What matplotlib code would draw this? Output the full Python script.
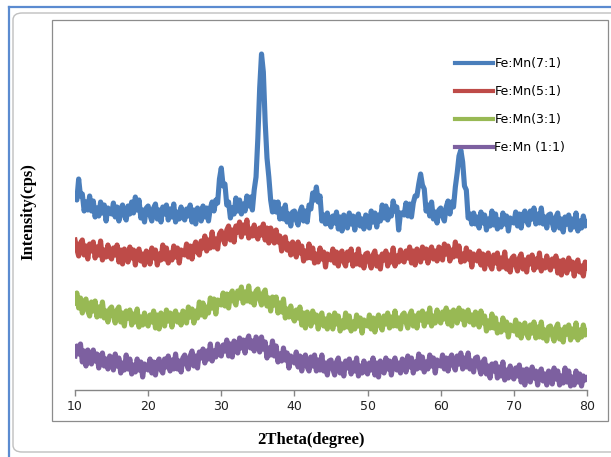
"""XRD patterns of Fe:Mn samples, offset stacked (Excel-style chart)."""
import numpy as np
import matplotlib
matplotlib.use("Agg")
import matplotlib.pyplot as plt
from matplotlib.patches import FancyBboxPatch, Rectangle
from matplotlib.lines import Line2D

# ---------------------------------------------------------------------------
# data: scan from 10 to 80 deg, 0.25 deg steps, intensities
# ---------------------------------------------------------------------------
SCAN_START, SCAN_STEP = 10.0, 0.25

labels = ["Fe:Mn(7:1)", "Fe:Mn(5:1)", "Fe:Mn(3:1)", "Fe:Mn (1:1)"]
colors = ["#4A7EBB", "#BE4B48", "#98B954", "#7D60A0"]

mn_7_1 = [
    194, 190, 211, 194, 196, 179, 188, 180, 194, 179, 189, 173, 182, 174, 188, 177, 185, 169, 182, 178,
    176, 187, 173, 183, 169, 181, 185, 174, 170, 184, 176, 188, 177, 193, 180, 190, 172, 180, 168, 182,
    184, 175, 169, 182, 186, 171, 180, 168, 183, 176, 185, 170, 181, 173, 186, 168, 178, 171, 183, 173,
    170, 181, 174, 185, 168, 180, 166, 182, 177, 169, 184, 173, 182, 169, 182, 188, 179, 190, 187, 211,
    222, 204, 206, 185, 188, 172, 182, 176, 192, 179, 190, 176, 186, 179, 194, 184, 193, 180, 200, 213,
    252, 302, 336, 318, 268, 232, 213, 190, 178, 188, 178, 188, 171, 181, 171, 185, 168, 176, 164, 178,
    179, 170, 165, 178, 183, 169, 179, 168, 185, 181, 197, 190, 203, 188, 194, 169, 175, 166, 177, 167,
    163, 174, 167, 178, 161, 173, 159, 175, 170, 162, 177, 166, 174, 160, 172, 176, 164, 171, 161, 175,
    173, 162, 179, 168, 177, 163, 175, 169, 185, 172, 184, 170, 180, 174, 189, 179, 183, 160, 177, 177,
    175, 187, 174, 186, 173, 187, 194, 194, 206, 216, 205, 201, 179, 185, 174, 188, 171, 178, 167, 180,
    182, 174, 169, 183, 189, 176, 188, 183, 203, 217, 234, 240, 228, 204, 200, 172, 176, 166, 177, 166,
    173, 162, 178, 167, 175, 160, 171, 164, 179, 165, 176, 161, 170, 163, 177, 166, 174, 159, 172, 168,
    167, 178, 164, 176, 162, 175, 179, 169, 165, 179, 171, 182, 166, 176, 167, 182, 166, 173, 162, 175,
    176, 167, 160, 173, 177, 162, 171, 158, 173, 166, 175, 160, 171, 163, 177, 159, 169, 162, 174, 164,
    168,
]

mn_5_1 = [
    150, 141, 134, 147, 150, 135, 144, 131, 146, 139, 148, 132, 143, 135, 149, 130, 140, 133, 145, 134,
    131, 142, 135, 145, 128, 140, 126, 141, 136, 128, 143, 132, 140, 125, 137, 141, 129, 136, 125, 139,
    137, 126, 142, 132, 140, 125, 136, 130, 145, 131, 142, 127, 137, 130, 144, 133, 142, 127, 140, 136,
    135, 146, 133, 144, 131, 143, 148, 138, 135, 149, 142, 154, 139, 150, 142, 158, 143, 151, 141, 156,
    159, 151, 146, 160, 164, 150, 160, 148, 164, 158, 168, 153, 165, 157, 170, 152, 161, 154, 165, 155,
    151, 162, 155, 166, 150, 162, 147, 162, 156, 147, 160, 148, 154, 139, 150, 153, 140, 146, 135, 148,
    144, 133, 148, 137, 144, 129, 139, 132, 146, 132, 142, 127, 136, 128, 142, 131, 138, 123, 136, 132,
    130, 141, 127, 138, 124, 136, 139, 128, 124, 138, 130, 141, 124, 135, 126, 141, 125, 133, 122, 136,
    137, 128, 122, 135, 139, 124, 133, 121, 136, 130, 139, 124, 135, 128, 142, 124, 134, 128, 140, 130,
    128, 139, 132, 143, 127, 139, 125, 141, 136, 128, 143, 132, 141, 127, 139, 143, 131, 139, 129, 143,
    141, 130, 146, 136, 144, 129, 140, 133, 148, 134, 144, 128, 136, 129, 142, 131, 138, 123, 136, 131,
    129, 139, 125, 136, 121, 133, 137, 125, 121, 135, 127, 137, 121, 132, 123, 138, 121, 129, 118, 132,
    134, 125, 119, 132, 136, 121, 130, 118, 133, 126, 135, 120, 131, 123, 137, 119, 129, 122, 134, 124,
    120, 131, 124, 134, 117, 129, 115, 130, 125, 117, 132, 121, 128, 114, 126, 130, 118, 124, 114, 128,
    122,
]

mn_3_1 = [
    87, 97, 82, 92, 77, 88, 91, 79, 74, 88, 79, 89, 73, 83, 74, 88, 72, 79, 68, 81,
    83, 74, 67, 80, 83, 68, 77, 64, 79, 72, 80, 65, 76, 68, 81, 63, 73, 65, 77, 67,
    64, 75, 68, 79, 62, 75, 61, 77, 72, 64, 80, 69, 77, 63, 75, 79, 68, 75, 65, 79,
    77, 67, 83, 73, 81, 67, 79, 72, 88, 75, 87, 73, 83, 77, 92, 82, 91, 76, 90, 87,
    85, 97, 84, 96, 82, 95, 99, 89, 85, 99, 92, 103, 87, 98, 89, 104, 88, 96, 85, 99,
    101, 91, 85, 97, 100, 84, 92, 79, 93, 85, 93, 77, 87, 78, 91, 72, 81, 73, 84, 73,
    69, 80, 72, 83, 65, 77, 62, 78, 73, 64, 79, 68, 75, 61, 73, 77, 64, 71, 61, 75,
    72, 61, 77, 66, 74, 59, 69, 62, 77, 63, 74, 59, 68, 61, 75, 64, 72, 57, 70, 66,
    64, 75, 61, 72, 58, 70, 75, 64, 60, 74, 66, 77, 62, 73, 64, 79, 64, 72, 61, 75,
    77, 68, 62, 75, 79, 64, 74, 62, 77, 70, 79, 64, 76, 68, 82, 64, 74, 67, 80, 70,
    67, 78, 71, 82, 66, 78, 64, 80, 75, 67, 82, 71, 79, 65, 77, 80, 68, 75, 65, 78,
    75, 63, 79, 67, 74, 59, 69, 62, 76, 62, 72, 57, 65, 58, 72, 60, 68, 53, 65, 61,
    59, 70, 55, 66, 52, 63, 67, 56, 52, 65, 57, 68, 52, 63, 53, 68, 52, 60, 49, 63,
    64, 55, 49, 62, 66, 51, 60, 48, 63, 56, 65, 50, 61, 53, 67, 50, 60, 53, 65, 55,
    59,
]

mn_1_1 = [
    34, 44, 36, 46, 28, 39, 24, 40, 34, 26, 40, 29, 36, 22, 33, 37, 24, 31, 21, 34,
    31, 20, 36, 24, 32, 17, 27, 20, 35, 21, 31, 16, 25, 18, 31, 20, 28, 13, 26, 22,
    20, 31, 17, 28, 15, 27, 31, 20, 17, 31, 23, 34, 19, 30, 21, 36, 21, 29, 18, 32,
    35, 26, 21, 34, 39, 24, 34, 22, 38, 32, 41, 27, 39, 31, 46, 29, 39, 33, 46, 36,
    34, 45, 39, 50, 34, 46, 33, 49, 44, 37, 52, 42, 50, 37, 49, 54, 42, 49, 39, 53,
    50, 38, 53, 41, 48, 32, 42, 35, 49, 34, 44, 28, 36, 29, 42, 30, 37, 22, 34, 30,
    27, 38, 23, 34, 19, 31, 35, 23, 19, 33, 24, 35, 19, 30, 20, 35, 19, 27, 15, 29,
    30, 21, 15, 28, 32, 17, 26, 14, 29, 22, 31, 16, 27, 19, 32, 14, 24, 17, 29, 19,
    16, 27, 20, 32, 15, 27, 13, 29, 24, 17, 32, 21, 29, 15, 27, 32, 20, 27, 17, 31,
    29, 18, 34, 23, 32, 17, 28, 21, 36, 22, 33, 18, 28, 21, 35, 24, 32, 17, 30, 26,
    24, 35, 21, 32, 19, 31, 35, 24, 20, 34, 26, 37, 21, 32, 23, 37, 21, 29, 18, 32,
    33, 23, 16, 28, 31, 16, 24, 12, 26, 19, 27, 12, 23, 14, 28, 10, 20, 12, 24, 14,
    11, 22, 14, 25, 8, 20, 5, 21, 16, 8, 23, 12, 19, 5, 17, 21, 9, 16, 5, 19,
    17, 6, 22, 11, 19, 5, 14, 7, 22, 8, 19, 4, 13, 5, 19, 8, 16, 4, 14, 10,
    12,
]

series = [mn_7_1, mn_5_1, mn_3_1, mn_1_1]
x_ticks = [10, 20, 30, 40, 50, 60, 70, 80]

two_theta = np.arange(len(mn_7_1)) * SCAN_STEP + SCAN_START

# ---------------------------------------------------------------------------
W, H = 611, 457
fig = plt.figure(figsize=(W / 100, H / 100), dpi=100)


def px(x, y):
    """pixel (from top-left) -> figure fraction"""
    return x / W, 1 - y / H


# screenshot-ish frame: blue window edge + grey rounded chart area
fig.add_artist(Line2D([8.5 / W, 8.5 / W], [0, 1 - 7 / H], transform=fig.transFigure,
                      color="#5B8BD0", lw=1.6))
fig.add_artist(Line2D([8.5 / W, 1], [1 - 7 / H, 1 - 7 / H], transform=fig.transFigure,
                      color="#5B8BD0", lw=1.6))
fig.add_artist(FancyBboxPatch(px(13, 452), (W + 20 - 13) / W, (452 - 13) / H,
                              boxstyle="round,pad=0,rounding_size=0.015",
                              transform=fig.transFigure, fill=False,
                              ec="#BFBFBF", lw=1.0))
# plot-area rectangle
fig.add_artist(Rectangle(px(52, 421), (608 - 52) / W, (421 - 20) / H,
                         transform=fig.transFigure, fill=False, ec="#8C8C8C", lw=0.9))

ax = fig.add_axes([75 / W, 1 - 390 / H, 512 / W, (390 - 22) / H])
ax.patch.set_alpha(0)

for ys, lab, col in zip(series, labels, colors):
    ax.plot(two_theta, ys, color=col, lw=3.7, label=lab, solid_joinstyle="round")

ax.set_xlim(10, 80)
ax.set_ylim(0, 368)
ax.set_xticks(x_ticks)
ax.set_yticks([])
for s in ("left", "top", "right"):
    ax.spines[s].set_visible(False)
ax.spines["bottom"].set_color("#868686")
ax.spines["bottom"].set_linewidth(1.0)
ax.tick_params(axis="x", direction="out", length=4, width=1.0, color="#868686",
               labelsize=9, labelcolor="#222222", pad=3)

fig.text(*px(311, 440), "2Theta(degree)", ha="center", va="center",
         family="Liberation Serif", fontweight="bold", fontsize=12)
fig.text(*px(28, 212), "Intensity(cps)", ha="center", va="center", rotation=90,
         family="Liberation Serif", fontweight="bold", fontsize=12)

leg = ax.legend(loc="upper left", bbox_to_anchor=px(455, 57), bbox_transform=fig.transFigure,
                frameon=False, fontsize=9, handlelength=3.0, handletextpad=0.15,
                labelspacing=1.2, borderpad=0, borderaxespad=0)
for h in leg.get_lines():
    h.set_linewidth(3)

fig.savefig("out.png", dpi=100)
